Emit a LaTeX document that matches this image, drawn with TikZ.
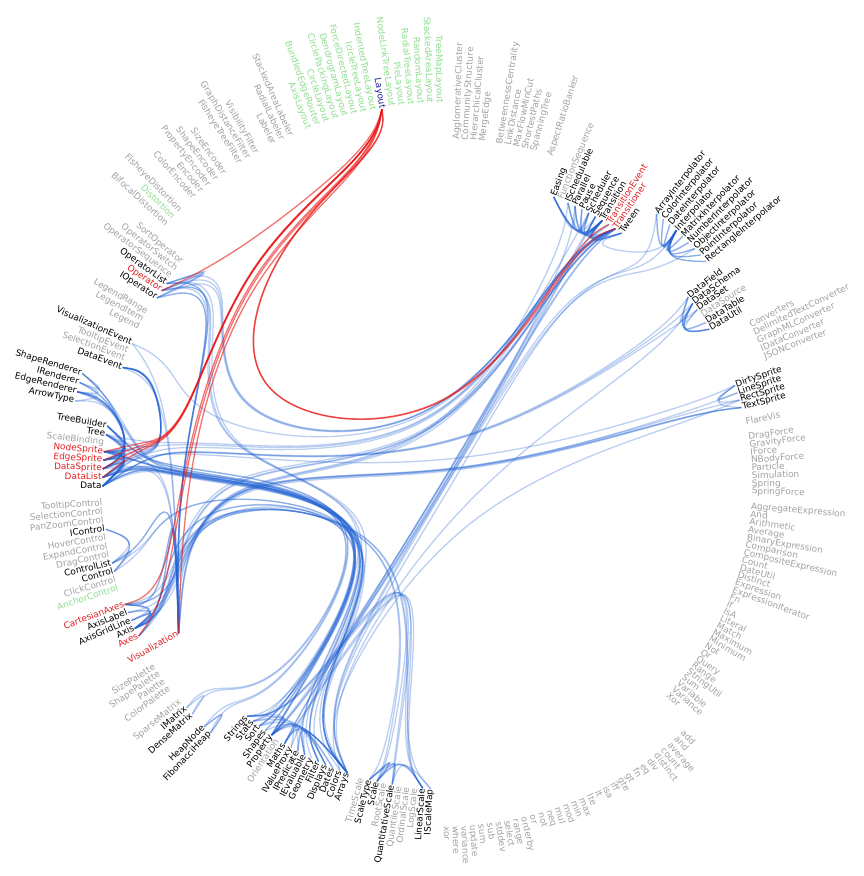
\documentclass[tikz,border=0pt]{standalone}
\usepackage{fontspec}
\newfontfamily\lblfont{DejaVu Sans}
\usetikzlibrary{calc}
\definecolor{cgray}{RGB}{160,160,160}
\definecolor{cgreen}{RGB}{140,220,140}
\definecolor{cred}{RGB}{225,30,35}
\definecolor{cblue}{RGB}{25,25,150}
\definecolor{eblue}{RGB}{30,95,210}
\definecolor{ered}{RGB}{235,20,20}
\def\bbeta{0.85}
\newcommand\lf[4]{%
  \pgfmathsetmacro\lth{2.0+1.44578*#1}%
  \pgfmathsetmacro\lr{233+36.5*#2}%
  \coordinate (#4) at ($(C)+({90-\lth}:\lr pt)$);%
  \ifdim\lth pt<180pt
    \node[lbl,#3,rotate=90-\lth,anchor=mid west] (l-#4) at (#4) {#4};%
  \else
    \node[lbl,#3,rotate=270-\lth,anchor=mid east] (l-#4) at (#4) {#4};%
  \fi}
\newcommand\pk[3]{%
  \pgfmathsetmacro\lth{2.0+1.44578*#2}%
  \pgfmathsetmacro\lr{233+36.5*#3}%
  \coordinate (#1) at ($(C)+({90-\lth}:\lr pt)$);}
\newcommand\bb[2][eb]{%
  \edef\blist{#2}%
  \foreach \p [count=\i from 0] in \blist {%
    \expandafter\xdef\csname bpn\i\endcsname{\p}\xdef\bn{\i}}%
  \edef\bpz{\csname bpn0\endcsname}%
  \edef\bpe{\csname bpn\bn\endcsname}%
  \foreach \i in {0,...,\bn}{%
    \pgfmathsetmacro\bfb{(1-\bbeta)*(1-\i/\bn)}%
    \pgfmathsetmacro\bfc{(1-\bbeta)*\i/\bn}%
    \edef\bpa{\csname bpn\i\endcsname}%
    \coordinate (bs\i) at ($\bbeta*(\bpa)+\bfb*(\bpz)+\bfc*(\bpe)$);%
  }%
  \pgfmathtruncatemacro\bnb{\bn+1}%
  \pgfmathtruncatemacro\bnq{\bn+4}%
  \foreach \k in {0,...,\bnq}{%
    \ifnum\k<3 \expandafter\xdef\csname bqn\k\endcsname{bs0}%
    \else\ifnum\k>\bnb \expandafter\xdef\csname bqn\k\endcsname{bs\bn}%
    \else \expandafter\xdef\csname bqn\k\endcsname{bs\the\numexpr\k-2\relax}\fi\fi}%
  \pgfmathtruncatemacro\bnk{\bn+3}%
  \foreach \j in {1,...,\bnk}{%
    \edef\qa{\csname bqn\the\numexpr\j-1\relax\endcsname}%
    \edef\qb{\csname bqn\j\endcsname}%
    \edef\qc{\csname bqn\the\numexpr\j+1\relax\endcsname}%
    \coordinate (bk\j) at ($0.1666667*(\qa)+0.6666667*(\qb)+0.1666667*(\qc)$);%
  }%
  \pgfmathtruncatemacro\bns{\bn+2}%
  \xdef\bpath{(bk1)}%
  \foreach \i in {1,...,\bns}{%
    \edef\qb{\csname bqn\i\endcsname}%
    \edef\qc{\csname bqn\the\numexpr\i+1\relax\endcsname}%
    \coordinate (bc\i) at ($0.6666667*(\qb)+0.3333333*(\qc)$);%
    \coordinate (bd\i) at ($0.3333333*(\qb)+0.6666667*(\qc)$);%
    \xdef\bpath{\bpath .. controls (bc\i) and (bd\i) .. (bk\the\numexpr\i+1\relax)}%
  }%
  \edef\bcmd{\noexpand\draw[#1] \bpath;}\bcmd}
\begin{document}
\begin{tikzpicture}[x=1pt,y=1pt,
  lbl/.style={font=\lblfont\fontsize{8.9}{10}\selectfont, inner sep=1pt, outer sep=0pt},
  cg/.style={text=cgray}, ck/.style={text=black}, cgr/.style={text=cgreen},
  cr/.style={text=cred}, cb/.style={text=cblue},
  eb/.style={draw=eblue, draw opacity=0.3, line width=1.3pt},
  er/.style={draw=ered, draw opacity=0.6, line width=1.3pt}]
\useasboundingbox (0,0) rectangle (864,-876);
\coordinate (C) at (445,-483);
% packages (angle = mean of children)
\pk{pAni}{18.9}{1}\pk{pInt}{29}{2}\pk{pDat}{38.43}{1}\pk{pDis}{49.5}{1}
\pk{pSc}{129.5}{1}\pk{pU}{145.68}{1}\pk{pHeap}{153.5}{2}\pk{pMath}{157}{2}
\pk{pVis}{189.2}{1}\pk{pAxis}{169}{2}\pk{pCtl}{178}{2}\pk{pVD}{189.28}{2}
\pk{pRen}{195.5}{3}\pk{pEv}{200.5}{2}\pk{pOp}{217.8}{2}\pk{pLay}{240}{3}
% leaves
\lf{0}{3}{cg}{AgglomerativeCluster}\lf{1}{3}{cg}{CommunityStructure}
\lf{2}{3}{cg}{HierarchicalCluster}\lf{3}{3}{cg}{MergeEdge}
\lf{5}{3}{cg}{BetweennessCentrality}\lf{6}{3}{cg}{LinkDistance}
\lf{7}{3}{cg}{MaxFlowMinCut}\lf{8}{3}{cg}{ShortestPaths}\lf{9}{3}{cg}{SpanningTree}
\lf{11}{3}{cg}{AspectRatioBanker}
\lf{13}{2}{ck}{Easing}\lf{14}{2}{cg}{FunctionSequence}\lf{15}{2}{ck}{ISchedulable}
\lf{16}{2}{ck}{Parallel}\lf{17}{2}{ck}{Pause}\lf{18}{2}{ck}{Scheduler}
\lf{19}{2}{ck}{Sequence}\lf{20}{2}{ck}{Transition}\lf{21}{2}{cr}{TransitionEvent}
\lf{22}{2}{cr}{Transitioner}\lf{23}{2}{ck}{Tween}
\lf{25}{3}{ck}{ArrayInterpolator}\lf{26}{3}{ck}{ColorInterpolator}
\lf{27}{3}{ck}{DateInterpolator}\lf{28}{3}{ck}{Interpolator}
\lf{29}{3}{ck}{MatrixInterpolator}\lf{30}{3}{ck}{NumberInterpolator}
\lf{31}{3}{ck}{ObjectInterpolator}\lf{32}{3}{ck}{PointInterpolator}
\lf{33}{3}{ck}{RectangleInterpolator}
\lf{35}{2}{ck}{DataField}\lf{36}{2}{ck}{DataSchema}\lf{37}{2}{ck}{DataSet}
\lf{38}{2}{cg}{DataSource}\lf{39}{2}{ck}{DataTable}\lf{40}{2}{ck}{DataUtil}
\lf{42}{3}{cg}{Converters}\lf{43}{3}{cg}{DelimitedTextConverter}
\lf{44}{3}{cg}{GraphMLConverter}\lf{45}{3}{cg}{IDataConverter}\lf{46}{3}{cg}{JSONConverter}
\lf{48}{2}{ck}{DirtySprite}\lf{49}{2}{ck}{LineSprite}\lf{50}{2}{ck}{RectSprite}\lf{51}{2}{ck}{TextSprite}
\lf{53}{2}{cg}{FlareVis}
\lf{55}{2}{cg}{DragForce}\lf{56}{2}{cg}{GravityForce}\lf{57}{2}{cg}{IForce}
\lf{58}{2}{cg}{NBodyForce}\lf{59}{2}{cg}{Particle}\lf{60}{2}{cg}{Simulation}
\lf{61}{2}{cg}{Spring}\lf{62}{2}{cg}{SpringForce}
\lf{64}{2}{cg}{AggregateExpression}\lf{65}{2}{cg}{And}\lf{66}{2}{cg}{Arithmetic}
\lf{67}{2}{cg}{Average}\lf{68}{2}{cg}{BinaryExpression}\lf{69}{2}{cg}{Comparison}
\lf{70}{2}{cg}{CompositeExpression}\lf{71}{2}{cg}{Count}\lf{72}{2}{cg}{DateUtil}
\lf{73}{2}{cg}{Distinct}\lf{74}{2}{cg}{Expression}\lf{75}{2}{cg}{ExpressionIterator}
\lf{76}{2}{cg}{Fn}\lf{77}{2}{cg}{If}\lf{78}{2}{cg}{IsA}\lf{79}{2}{cg}{Literal}
\lf{80}{2}{cg}{Match}\lf{81}{2}{cg}{Maximum}\lf{82}{2}{cg}{Minimum}\lf{83}{2}{cg}{Not}
\lf{84}{2}{cg}{Or}\lf{85}{2}{cg}{Query}\lf{86}{2}{cg}{Range}\lf{87}{2}{cg}{StringUtil}
\lf{88}{2}{cg}{Sum}\lf{89}{2}{cg}{Variable}\lf{90}{2}{cg}{Variance}\lf{91}{2}{cg}{Xor}
\lf{93}{3}{cg}{add}\lf{94}{3}{cg}{and}\lf{95}{3}{cg}{average}\lf{96}{3}{cg}{count}
\lf{97}{3}{cg}{distinct}\lf{98}{3}{cg}{div}\lf{99}{3}{cg}{eq}\lf{100}{3}{cg}{fn}
\lf{101}{3}{cg}{gt}\lf{102}{3}{cg}{gte}\lf{103}{3}{cg}{iff}\lf{104}{3}{cg}{isa}
\lf{105}{3}{cg}{lt}\lf{106}{3}{cg}{lte}\lf{107}{3}{cg}{max}\lf{108}{3}{cg}{min}
\lf{109}{3}{cg}{mod}\lf{110}{3}{cg}{mul}\lf{111}{3}{cg}{neq}\lf{112}{3}{cg}{not}
\lf{113}{3}{cg}{or}\lf{114}{3}{cg}{orderby}\lf{115}{3}{cg}{range}\lf{116}{3}{cg}{select}
\lf{117}{3}{cg}{stddev}\lf{118}{3}{cg}{sub}\lf{119}{3}{cg}{sum}\lf{120}{3}{cg}{update}
\lf{121}{3}{cg}{variance}\lf{122}{3}{cg}{where}\lf{123}{3}{cg}{xor}
\lf{125}{2}{ck}{IScaleMap}\lf{126}{2}{ck}{LinearScale}\lf{127}{2}{cg}{LogScale}
\lf{128}{2}{cg}{OrdinalScale}\lf{129}{2}{cg}{QuantileScale}\lf{130}{2}{ck}{QuantitativeScale}
\lf{131}{2}{cg}{RootScale}\lf{132}{2}{ck}{Scale}\lf{133}{2}{ck}{ScaleType}\lf{134}{2}{cg}{TimeScale}
\lf{136}{2}{ck}{Arrays}\lf{137}{2}{ck}{Colors}\lf{138}{2}{ck}{Dates}\lf{139}{2}{ck}{Displays}
\lf{140}{2}{ck}{Filter}\lf{141}{2}{ck}{Geometry}\lf{142}{2}{ck}{IEvaluable}\lf{143}{2}{ck}{IPredicate}
\lf{144}{2}{ck}{IValueProxy}\lf{145}{2}{ck}{Maths}\lf{146}{2}{cg}{Orientation}\lf{147}{2}{ck}{Property}
\lf{148}{2}{ck}{Shapes}\lf{149}{2}{ck}{Sort}\lf{150}{2}{ck}{Stats}\lf{151}{2}{ck}{Strings}
\lf{153}{3}{ck}{FibonacciHeap}\lf{154}{3}{ck}{HeapNode}
\lf{156}{3}{ck}{DenseMatrix}\lf{157}{3}{ck}{IMatrix}\lf{158}{3}{cg}{SparseMatrix}
\lf{160}{3}{cg}{ColorPalette}\lf{161}{3}{cg}{Palette}\lf{162}{3}{cg}{ShapePalette}\lf{163}{3}{cg}{SizePalette}
\lf{165}{2}{cr}{Visualization}
\lf{167}{3}{cr}{Axes}\lf{168}{3}{ck}{Axis}\lf{169}{3}{ck}{AxisGridLine}\lf{170}{3}{ck}{AxisLabel}
\lf{171}{3}{cr}{CartesianAxes}
\lf{173}{3}{cgr}{AnchorControl}\lf{174}{3}{cg}{ClickControl}\lf{175}{3}{ck}{Control}
\lf{176}{3}{ck}{ControlList}\lf{177}{3}{cg}{DragControl}\lf{178}{3}{cg}{ExpandControl}
\lf{179}{3}{cg}{HoverControl}\lf{180}{3}{ck}{IControl}\lf{181}{3}{cg}{PanZoomControl}
\lf{182}{3}{cg}{SelectionControl}\lf{183}{3}{cg}{TooltipControl}
\lf{185}{3}{ck}{Data}\lf{186}{3}{cr}{DataList}\lf{187}{3}{cr}{DataSprite}\lf{188}{3}{cr}{EdgeSprite}
\lf{189}{3}{cr}{NodeSprite}\lf{190}{3}{cg}{ScaleBinding}\lf{191}{3}{ck}{Tree}\lf{192}{3}{ck}{TreeBuilder}
\lf{194}{4}{ck}{ArrowType}\lf{195}{4}{ck}{EdgeRenderer}\lf{196}{4}{ck}{IRenderer}\lf{197}{4}{ck}{ShapeRenderer}
\lf{199}{3}{ck}{DataEvent}\lf{200}{3}{cg}{SelectionEvent}\lf{201}{3}{cg}{TooltipEvent}
\lf{202}{3}{ck}{VisualizationEvent}
\lf{204}{3}{cg}{Legend}\lf{205}{3}{cg}{LegendItem}\lf{206}{3}{cg}{LegendRange}
\lf{208}{3}{ck}{IOperator}\lf{209}{3}{cr}{Operator}\lf{210}{3}{ck}{OperatorList}
\lf{211}{3}{cg}{OperatorSequence}\lf{212}{3}{cg}{OperatorSwitch}\lf{213}{3}{cg}{SortOperator}
\lf{215}{4}{cg}{BifocalDistortion}\lf{216}{4}{cgr}{Distortion}\lf{217}{4}{cg}{FisheyeDistortion}
\lf{219}{4}{cg}{ColorEncoder}\lf{220}{4}{cg}{Encoder}\lf{221}{4}{cg}{PropertyEncoder}
\lf{222}{4}{cg}{ShapeEncoder}\lf{223}{4}{cg}{SizeEncoder}
\lf{225}{4}{cg}{FisheyeTreeFilter}\lf{226}{4}{cg}{GraphDistanceFilter}\lf{227}{4}{cg}{VisibilityFilter}
\lf{229}{4}{cg}{Labeler}\lf{230}{4}{cg}{RadialLabeler}\lf{231}{4}{cg}{StackedAreaLabeler}
\lf{233}{4}{cgr}{AxisLayout}\lf{234}{4}{cgr}{BundledEdgeRouter}\lf{235}{4}{cgr}{CircleLayout}
\lf{236}{4}{cgr}{CirclePackingLayout}\lf{237}{4}{cgr}{DendrogramLayout}
\lf{238}{4}{cgr}{ForceDirectedLayout}\lf{239}{4}{cgr}{IcicleTreeLayout}
\lf{240}{4}{cgr}{IndentedTreeLayout}\lf{241}{4}{cb}{Layout}\lf{242}{4}{cgr}{NodeLinkTreeLayout}
\lf{243}{4}{cgr}{PieLayout}\lf{244}{4}{cgr}{RadialTreeLayout}\lf{245}{4}{cgr}{RandomLayout}
\lf{246}{4}{cgr}{StackedAreaLayout}\lf{247}{4}{cgr}{TreeMapLayout}
% ---- blue edges: animate
\bb{Easing,pAni,Transition}\bb{ISchedulable,pAni,Scheduler}\bb{Parallel,pAni,Easing}
\bb{Parallel,pAni,Transition}\bb{Pause,pAni,Transition}\bb{Scheduler,pAni,ISchedulable}
\bb{Scheduler,pAni,Pause}\bb{Scheduler,pAni,Transition}\bb{Sequence,pAni,Easing}
\bb{Sequence,pAni,Transition}\bb{Transition,pAni,Transitioner}\bb{Transition,pAni,TransitionEvent}
\bb{Transition,pAni,Scheduler}\bb{Transition,pAni,Pause}\bb{Transition,pAni,Parallel}
\bb{Transition,pAni,Easing}\bb{Transition,pAni,Sequence}\bb{Transition,pAni,ISchedulable}
\bb{Transition,pAni,Tween}\bb{Transitioner,pAni,Parallel}\bb{Transitioner,pAni,Easing}
\bb{Transitioner,pAni,Sequence}\bb{Transitioner,pAni,Transition}\bb{Transitioner,pAni,Tween}
\bb{TransitionEvent,pAni,Transition}\bb{Tween,pAni,Transitioner}\bb{Tween,pAni,Transition}
\bb{Tween,pAni,Easing}
\bb{Parallel,pAni,C,pU,Arrays}\bb{Sequence,pAni,C,pU,Maths}\bb{Sequence,pAni,C,pU,Arrays}
\bb{Transition,pAni,C,pU,Maths}\bb{Transitioner,pAni,C,pU,IValueProxy}
\bb{Transitioner,pAni,C,pU,Property}\bb{Tween,pAni,pInt,Interpolator}
% interpolate
\bb{ArrayInterpolator,pInt,Interpolator}\bb{ColorInterpolator,pInt,Interpolator}
\bb{DateInterpolator,pInt,Interpolator}\bb{MatrixInterpolator,pInt,Interpolator}
\bb{NumberInterpolator,pInt,Interpolator}\bb{ObjectInterpolator,pInt,Interpolator}
\bb{PointInterpolator,pInt,Interpolator}\bb{RectangleInterpolator,pInt,Interpolator}
\bb{Interpolator,pInt,ArrayInterpolator}\bb{Interpolator,pInt,ColorInterpolator}
\bb{Interpolator,pInt,DateInterpolator}\bb{Interpolator,pInt,MatrixInterpolator}
\bb{Interpolator,pInt,NumberInterpolator}\bb{Interpolator,pInt,ObjectInterpolator}
\bb{Interpolator,pInt,PointInterpolator}\bb{Interpolator,pInt,RectangleInterpolator}
\bb{ArrayInterpolator,pInt,pAni,C,pU,Arrays}\bb{ObjectInterpolator,pInt,pAni,C,pU,Property}
\bb{Interpolator,pInt,pAni,C,pU,Property}
% data
\bb{DataField,pDat,DataUtil}\bb{DataSchema,pDat,DataField}\bb{DataSchema,pDat,DataUtil}
\bb{DataSet,pDat,DataTable}\bb{DataSet,pDat,DataSchema}\bb{DataTable,pDat,DataSchema}
\bb{DataUtil,pDat,DataField}\bb{DataUtil,pDat,DataSchema}\bb{DataSchema,pDat,C,pU,Arrays}
% display
\bb{LineSprite,pDis,DirtySprite}\bb{RectSprite,pDis,DirtySprite}\bb{TextSprite,pDis,DirtySprite}
\bb{RectSprite,pDis,C,pU,Colors}
% scale
\bb{IScaleMap,pSc,Scale}\bb{LinearScale,pSc,Scale}\bb{LinearScale,pSc,QuantitativeScale}
\bb{LinearScale,pSc,ScaleType}\bb{QuantitativeScale,pSc,Scale}\bb{QuantitativeScale,pSc,ScaleType}
\bb{Scale,pSc,ScaleType}\bb{ScaleType,pSc,Scale}
\bb{LinearScale,pSc,C,pU,Maths}\bb{LinearScale,pSc,C,pU,Strings}
\bb{QuantitativeScale,pSc,C,pU,Maths}\bb{QuantitativeScale,pSc,C,pU,Strings}
\bb{Scale,pSc,C,pU,Strings}
% util
\bb{Arrays,pU,Property}\bb{Dates,pU,Maths}\bb{Displays,pU,IEvaluable}\bb{Displays,pU,Property}
\bb{Displays,pU,IPredicate}\bb{Filter,pU,IPredicate}\bb{Maths,pU,Arrays}\bb{Property,pU,IPredicate}
\bb{Property,pU,IValueProxy}\bb{Property,pU,IEvaluable}\bb{Shapes,pU,Arrays}\bb{Sort,pU,Arrays}
\bb{Sort,pU,Property}\bb{Stats,pU,Arrays}\bb{Stats,pU,Property}\bb{Strings,pU,Dates}
\bb{Strings,pU,Property}\bb{FibonacciHeap,pHeap,HeapNode}\bb{HeapNode,pHeap,FibonacciHeap}
\bb{DenseMatrix,pMath,IMatrix}
% vis
\bb{Visualization,pVis,C,pAni,Transitioner}\bb{Visualization,pVis,pOp,IOperator}
\bb{Visualization,pVis,C,pAni,Scheduler}\bb{Visualization,pVis,pEv,VisualizationEvent}
\bb{Visualization,pVis,pVD,Tree}\bb{Visualization,pVis,pEv,DataEvent}
\bb{Visualization,pVis,pAxis,Axes}\bb{Visualization,pVis,pAxis,CartesianAxes}
\bb{Visualization,pVis,C,pU,Displays}\bb{Visualization,pVis,pOp,OperatorList}
\bb{Visualization,pVis,pCtl,ControlList}\bb{Visualization,pVis,C,pAni,ISchedulable}
\bb{Visualization,pVis,pVD,Data}
\bb{Axes,pAxis,pVis,C,pAni,Transitioner}\bb{Axes,pAxis,pVis,Visualization}
\bb{Axis,pAxis,pVis,C,pAni,Transitioner}\bb{Axis,pAxis,pVis,C,pSc,LinearScale}
\bb{Axis,pAxis,pVis,C,pU,Arrays}\bb{Axis,pAxis,pVis,C,pSc,ScaleType}
\bb{Axis,pAxis,pVis,C,pU,Strings}\bb{Axis,pAxis,pVis,C,pDis,TextSprite}
\bb{Axis,pAxis,pVis,C,pSc,Scale}\bb{Axis,pAxis,pVis,C,pU,Stats}
\bb{Axis,pAxis,pVis,C,pSc,IScaleMap}\bb{Axis,pAxis,AxisLabel}\bb{Axis,pAxis,AxisGridLine}
\bb{AxisGridLine,pAxis,Axis}\bb{AxisGridLine,pAxis,pVis,C,pDis,LineSprite}
\bb{AxisLabel,pAxis,Axis}\bb{AxisLabel,pAxis,pVis,C,pDis,TextSprite}
\bb{CartesianAxes,pAxis,pVis,C,pAni,Transitioner}\bb{CartesianAxes,pAxis,pVis,C,pDis,RectSprite}
\bb{CartesianAxes,pAxis,Axis}\bb{CartesianAxes,pAxis,pVis,C,pDis,TextSprite}
\bb{CartesianAxes,pAxis,Axes}\bb{CartesianAxes,pAxis,pVis,Visualization}
\bb{CartesianAxes,pAxis,AxisGridLine}
\bb{Control,pCtl,IControl}\bb{Control,pCtl,pVis,C,pU,Filter}\bb{ControlList,pCtl,IControl}
\bb{ControlList,pCtl,pVis,C,pU,Arrays}\bb{ControlList,pCtl,pVis,Visualization}
\bb{ControlList,pCtl,Control}\bb{IControl,pCtl,Control}
\bb{Data,pVD,EdgeSprite}\bb{Data,pVD,NodeSprite}\bb{Data,pVD,pVis,C,pU,Arrays}
\bb{Data,pVD,DataSprite}\bb{Data,pVD,Tree}\bb{Data,pVD,pVis,pEv,DataEvent}
\bb{Data,pVD,pVis,C,pDat,DataSet}\bb{Data,pVD,TreeBuilder}\bb{Data,pVD,DataList}
\bb{Data,pVD,pVis,C,pDat,DataSchema}\bb{Data,pVD,pVis,C,pU,Sort}
\bb{Data,pVD,pVis,C,pDat,DataField}\bb{Data,pVD,pVis,C,pU,Property}
\bb{DataList,pVD,pVis,C,pAni,Transitioner}\bb{DataList,pVD,NodeSprite}
\bb{DataList,pVD,pVis,C,pU,Arrays}\bb{DataList,pVD,pVis,C,pU,pMath,DenseMatrix}
\bb{DataList,pVD,DataSprite}\bb{DataList,pVD,EdgeSprite}\bb{DataList,pVD,pVis,pEv,DataEvent}
\bb{DataList,pVD,pVis,C,pU,Stats}\bb{DataList,pVD,pVis,C,pU,pMath,IMatrix}
\bb{DataList,pVD,pVis,C,pU,Sort}\bb{DataList,pVD,pVis,C,pU,Filter}
\bb{DataList,pVD,pVis,C,pU,Property}
\bb{DataSprite,pVD,pVis,C,pU,Colors}\bb{DataSprite,pVD,Data}
\bb{DataSprite,pVD,pVis,C,pDis,DirtySprite}\bb{DataSprite,pVD,pRen,IRenderer}
\bb{DataSprite,pVD,pRen,ShapeRenderer}
\bb{EdgeSprite,pVD,pRen,EdgeRenderer}\bb{EdgeSprite,pVD,DataSprite}\bb{EdgeSprite,pVD,NodeSprite}
\bb{EdgeSprite,pVD,pRen,ArrowType}\bb{EdgeSprite,pVD,Data}
\bb{NodeSprite,pVD,pVis,C,pAni,Transitioner}\bb{NodeSprite,pVD,pVis,C,pU,Arrays}
\bb{NodeSprite,pVD,DataSprite}\bb{NodeSprite,pVD,EdgeSprite}\bb{NodeSprite,pVD,Tree}
\bb{NodeSprite,pVD,pVis,C,pU,Sort}\bb{NodeSprite,pVD,pVis,C,pU,Filter}
\bb{NodeSprite,pVD,pVis,C,pU,IEvaluable}\bb{NodeSprite,pVD,Data}
\bb{Tree,pVD,pVis,C,pAni,Transitioner}\bb{Tree,pVD,NodeSprite}\bb{Tree,pVD,pVis,pEv,DataEvent}
\bb{Tree,pVD,EdgeSprite}\bb{Tree,pVD,Data}
\bb{TreeBuilder,pVD,NodeSprite}\bb{TreeBuilder,pVD,Tree}
\bb{TreeBuilder,pVD,pVis,C,pU,pHeap,HeapNode}\bb{TreeBuilder,pVD,pVis,C,pU,pHeap,FibonacciHeap}
\bb{TreeBuilder,pVD,pVis,C,pU,Property}\bb{TreeBuilder,pVD,EdgeSprite}
\bb{EdgeRenderer,pRen,pVD,EdgeSprite}\bb{EdgeRenderer,pRen,pVD,NodeSprite}
\bb{EdgeRenderer,pRen,pVD,DataSprite}\bb{EdgeRenderer,pRen,IRenderer}
\bb{EdgeRenderer,pRen,pVD,pVis,C,pU,Shapes}\bb{EdgeRenderer,pRen,pVD,pVis,C,pU,Geometry}
\bb{EdgeRenderer,pRen,ArrowType}\bb{IRenderer,pRen,pVD,DataSprite}
\bb{ShapeRenderer,pRen,pVD,pVis,C,pU,Shapes}\bb{ShapeRenderer,pRen,IRenderer}
\bb{ShapeRenderer,pRen,pVD,DataSprite}
\bb{DataEvent,pEv,pVis,pVD,EdgeSprite}\bb{DataEvent,pEv,pVis,pVD,NodeSprite}
\bb{DataEvent,pEv,pVis,pVD,DataList}\bb{DataEvent,pEv,pVis,pVD,DataSprite}
\bb{VisualizationEvent,pEv,pVis,C,pAni,Transitioner}
\bb{IOperator,pOp,pVis,C,pAni,Transitioner}\bb{IOperator,pOp,pVis,Visualization}
\bb{Operator,pOp,pVis,C,pAni,Transitioner}\bb{Operator,pOp,IOperator}
\bb{Operator,pOp,pVis,C,pU,Property}\bb{Operator,pOp,pVis,C,pU,IEvaluable}
\bb{Operator,pOp,pVis,Visualization}
\bb{OperatorList,pOp,pVis,C,pAni,Transitioner}\bb{OperatorList,pOp,pVis,C,pU,Arrays}
\bb{OperatorList,pOp,IOperator}\bb{OperatorList,pOp,pVis,Visualization}\bb{OperatorList,pOp,Operator}
% ---- red edges from Layout
\bb[er]{Layout,pLay,pOp,pVis,C,pAni,Transitioner}
\bb[er]{Layout,pLay,pOp,pVis,C,pAni,TransitionEvent}
\bb[er]{Layout,pLay,pOp,pVis,pVD,NodeSprite}
\bb[er]{Layout,pLay,pOp,pVis,pVD,DataList}
\bb[er]{Layout,pLay,pOp,pVis,pVD,DataSprite}
\bb[er]{Layout,pLay,pOp,pVis,pVD,EdgeSprite}
\bb[er]{Layout,pLay,pOp,pVis,Visualization}
\bb[er]{Layout,pLay,pOp,pVis,pAxis,CartesianAxes}
\bb[er]{Layout,pLay,pOp,pVis,pAxis,Axes}
\bb[er]{Layout,pLay,pOp,Operator}
\end{tikzpicture}
\end{document}
